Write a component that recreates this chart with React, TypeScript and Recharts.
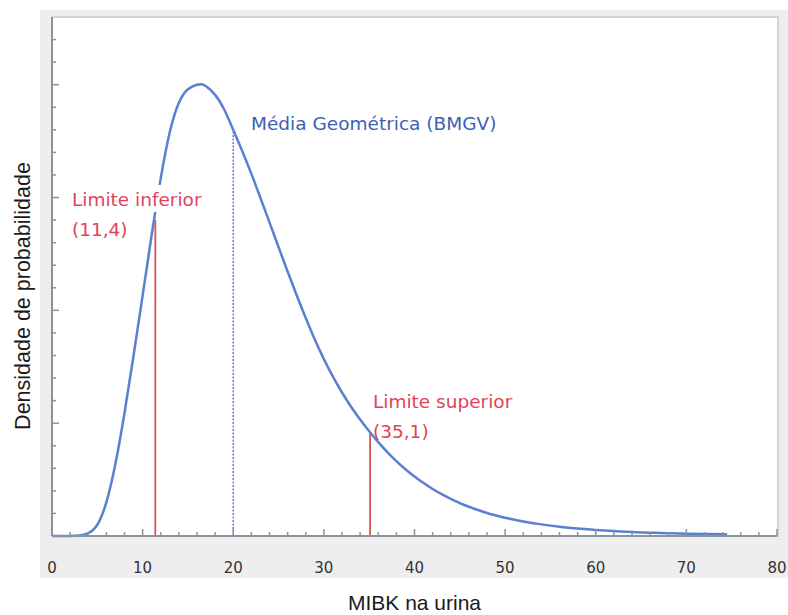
import { LineChart, Line, XAxis, YAxis, ReferenceLine, ReferenceDot } from 'recharts';

// density curve (x = MIBK, y = density in tick units)
const CURVE_X = [0, 1, 2, 3, 4, 5, 6, 7, 8, 9, 10, 11, 12, 13, 14, 15, 16, 16.5, 17, 18, 19, 20, 21, 22, 23, 24, 25, 26, 27, 28, 29, 30, 31, 32, 33, 34, 35, 36, 37, 38, 39, 40, 41, 42, 43, 44, 45, 46, 47, 48, 49, 50, 52, 54, 56, 58, 60, 62, 64, 66, 68, 70, 72, 74.5];
const CURVE_Y = [0, 0, 0, 0.02, 0.13, 0.5, 1.5, 3.2, 5.45, 8.0, 10.65, 13.35, 15.85, 17.9, 19.2, 19.8, 20.0, 20.02, 19.93, 19.55, 18.9, 18.0, 17.05, 16.05, 14.98, 13.9, 12.8, 11.72, 10.67, 9.66, 8.71, 7.84, 7.06, 6.36, 5.73, 5.16, 4.64, 4.16, 3.72, 3.32, 2.96, 2.635, 2.345, 2.085, 1.852, 1.645, 1.46, 1.296, 1.15, 1.022, 0.908, 0.808, 0.643, 0.515, 0.413, 0.333, 0.27, 0.219, 0.178, 0.146, 0.121, 0.101, 0.086, 0.073];

const X_TICKS = [0, 2, 4, 6, 8, 10, 12, 14, 16, 18, 20, 22, 24, 26, 28, 30, 32, 34, 36, 38, 40, 42, 44, 46, 48, 50, 52, 54, 56, 58, 60, 62, 64, 66, 68, 70, 72, 74, 76, 78, 80];
const X_LABELS = [0, 10, 20, 30, 40, 50, 60, 70, 80];
const Y_TICKS = [1, 2, 3, 4, 5, 6, 7, 8, 9, 10, 11, 12, 13, 14, 15, 16, 17, 18, 19, 20, 21, 22];
const Y_MAJOR = [5, 10, 15, 20];

const MARKER_X = [11.4, 20, 35.1];
const MARKER_TOP = [14.0, 18.0, 4.57];
const MARKER_KIND = ['limit', 'mean', 'limit'];

const NOTE_X = [2.2, 21.96, 35.42];
const NOTE_Y = [14.63, 18.0, 5.67];
const NOTE_LINES = [['Limite inferior', '(11,4)'], ['Média Geométrica (BMGV)'], ['Limite superior', '(35,1)']];
const NOTE_KIND = ['limit', 'mean', 'limit'];

const curve = CURVE_X.map((x, i) => ({ x, y: CURVE_Y[i] }));

const AXIS = '#8a939c';
const BLUE = '#5b7fd1';
const RED = '#d9534f';
const RED_TEXT = '#e0435a';
const BLUE_TEXT = '#3d5fb4';
const TEXT_FONT = '"DejaVu Sans", Verdana, sans-serif';
const TITLE_FONT = '"Liberation Sans", Arial, sans-serif';

const XTick = ({ x, y, payload }: any) => {
    const major = X_LABELS.includes(payload.value);
    return (
        <g>
            <line x1={x} x2={x} y1={y} y2={y - (major ? 7 : 4)} stroke={AXIS} strokeWidth={1.5} />
            {major && (
                <text x={x} y={y + 37} textAnchor="middle" fill="#333" style={{ fontFamily: TEXT_FONT, fontSize: 15 }}>
                    {payload.value}
                </text>
            )}
        </g>
    );
};

const YTick = ({ x, y, payload }: any) => {
    const major = Y_MAJOR.includes(payload.value);
    return <line x1={x} x2={x + (major ? 7 : 4)} y1={y} y2={y} stroke={AXIS} strokeWidth={1.5} />;
};

const NoteLabel = ({ viewBox, lines, color }: any) => {
    const { x, y } = viewBox;
    return (
        <g>
            {lines.map((t: string, i: number) => (
                <g key={t}>
                    {i === 0 && <rect x={x - 2} y={y - 21} width={t.length * 9.8} height={27} fill="#fff" />}
                    <text x={x} y={y + i * 30} fill={color} style={{ fontFamily: TEXT_FONT, fontSize: 18.5 }}>
                        {t}
                    </text>
                </g>
            ))}
        </g>
    );
};

const XTitle = ({ viewBox }: any) => (
    <text x={viewBox.x + viewBox.width / 2} y={610} textAnchor="middle" fill="#1a1a1a" style={{ fontFamily: TITLE_FONT, fontSize: 21 }}>
        MIBK na urina
    </text>
);

const YTitle = () => (
    <text transform="translate(22, 296) rotate(-90)" dy="0.35em" textAnchor="middle" fill="#1a1a1a" style={{ fontFamily: TITLE_FONT, fontSize: 21.5 }}>
        Densidade de probabilidade
    </text>
);

export default function App() {
    return (
        <div style={{ position: 'absolute', left: 0, top: 0, width: 788, height: 615, background: '#fff' }}>
            <div style={{ position: 'absolute', left: 40, top: 10, width: 748, height: 568, background: '#eeeeee' }} />
            <div style={{
                position: 'absolute', left: 52, top: 16, width: 727, height: 521, boxSizing: 'border-box',
                background: '#fff', borderTop: '2px solid #cdd4da', borderRight: '2px solid #cdd4da',
            }} />
            <div style={{ position: 'absolute', left: 0, top: 0 }}>
                <LineChart width={788} height={615} data={curve} margin={{ top: 17, right: 11, bottom: 0, left: 0 }}>
                    <XAxis
                        type="number"
                        dataKey="x"
                        domain={[0, 80]}
                        ticks={X_TICKS}
                        interval={0}
                        height={79}
                        tickSize={0}
                        tickMargin={0}
                        tickLine={false}
                        axisLine={{ stroke: AXIS, strokeWidth: 2 }}
                        tick={(p: any) => <XTick {...p} />}
                        label={{ content: XTitle }}
                    />
                    <YAxis
                        type="number"
                        domain={[0, 23]}
                        ticks={Y_TICKS}
                        interval={0}
                        width={52}
                        tickSize={0}
                        tickMargin={0}
                        tickLine={false}
                        axisLine={{ stroke: AXIS, strokeWidth: 2 }}
                        tick={(p: any) => <YTick {...p} />}
                        label={{ content: YTitle }}
                    />
                    {MARKER_X.map((mx, i) => (
                        <ReferenceLine
                            key={`m-${i}`}
                            segment={[{ x: mx, y: 0 }, { x: mx, y: MARKER_TOP[i] }]}
                            stroke={MARKER_KIND[i] === 'mean' ? BLUE : RED}
                            strokeWidth={MARKER_KIND[i] === 'mean' ? 1.5 : 1.8}
                            strokeDasharray={MARKER_KIND[i] === 'mean' ? '2 1.5' : undefined}
                        />
                    ))}
                    <Line type="natural" dataKey="y" stroke={BLUE} strokeWidth={2.5} dot={false} activeDot={false} isAnimationActive={false} />
                    {NOTE_X.map((nx, i) => (
                        <ReferenceDot
                            key={`n-${i}`}
                            x={nx}
                            y={NOTE_Y[i]}
                            r={0}
                            fill="none"
                            stroke="none"
                            label={<NoteLabel lines={NOTE_LINES[i]} color={NOTE_KIND[i] === 'mean' ? BLUE_TEXT : RED_TEXT} />}
                        />
                    ))}
                </LineChart>
            </div>
        </div>
    );
}
